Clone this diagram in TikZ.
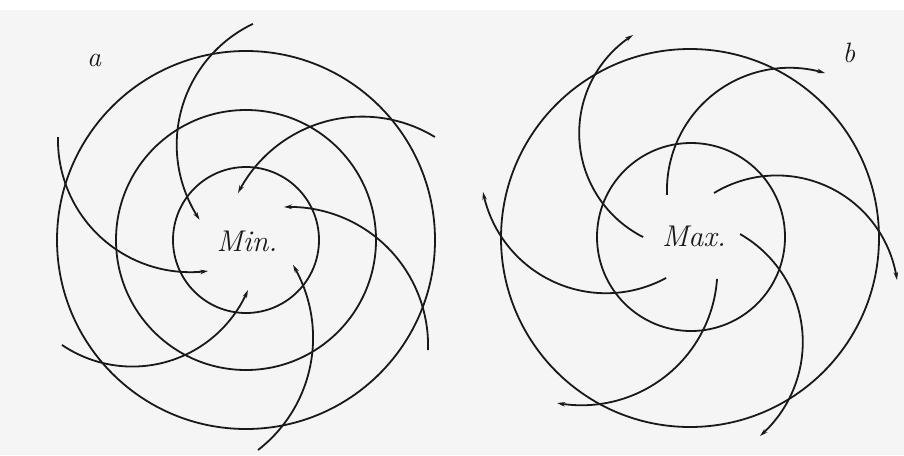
\documentclass[tikz,border=0pt]{standalone}
\usetikzlibrary{arrows.meta}
\definecolor{paper}{RGB}{245,245,245}
\definecolor{ink}{RGB}{25,25,25}
\tikzset{
  ring/.style={draw=ink, line width=1.8pt},
  flow/.style={draw=ink, line width=1.8pt, -{Stealth[length=8pt,width=4.5pt]}},
  lbl/.style={font=\fontsize{30}{34}\selectfont\itshape, text=ink, inner sep=0pt},
  tag/.style={font=\fontsize{28}{32}\selectfont\itshape, text=ink, inner sep=0pt}
}
% \spiralarc{cx}{cy}{r}{from}{to}
\newcommand{\spiralarc}[5]{%
  \draw[flow] plot[domain=#4:#5, samples=60, variable=\t] ({#1+#3*cos(\t)},{#2+#3*sin(\t)});}
\begin{document}
\begin{tikzpicture}[x=1pt,y=-1pt]
\fill[paper] (0,0) rectangle (904,455);
\useasboundingbox (0,0) rectangle (904,455);
\fill[white] (0,0) rectangle (904,10);

% ---------- left diagram (a) ----------
\coordinate (cA) at (246,240);
\draw[ring] (cA) circle[radius=73];
\draw[ring] (cA) circle[radius=130];
\draw[ring] (cA) circle[radius=189];
\node[lbl] (min) at (247,241) {Min.};
\node[tag] (la) at (94,60) {a};

\spiralarc{310.8}{144.8}{134.1}{-115.6}{-214}
\spiralarc{362.3}{255.9}{139.3}{-58.6}{-153.2}
\spiralarc{190.35}{139.8}{132.4}{181.2}{82.3}
\spiralarc{132.37}{240.96}{125.6}{124.1}{23.0}
\spiralarc{171.08}{337.74}{142.0}{52.25}{-30.8}
\spiralarc{289.52}{345.45}{138.55}{1.9}{-92.3}

% ---------- right diagram (b) ----------
\coordinate (cB) at (691,237);
\coordinate (cBo) at (690,238);
\draw[ring] (cB) circle[radius=94];
\draw[ring] (cBo) circle[radius=189];
\node[lbl] (max) at (694,236) {Max.};
\node[tag] (lb) at (849,53) {b};

\spiralarc{695.57}{133.15}{116.4}{116.8}{237.5}
\spiralarc{789.44}{190.26}{122.5}{177.8}{286.9}
\spiralarc{776.86}{296.75}{121.3}{-121.2}{-7.9}
\spiralarc{678.38}{342.09}{124.4}{-60.3}{49.0}
\spiralarc{581.57}{269.48}{135.8}{4.0}{100.4}
\spiralarc{606.06}{167.84}{125.4}{61.4}{168.9}
\end{tikzpicture}
\end{document}
